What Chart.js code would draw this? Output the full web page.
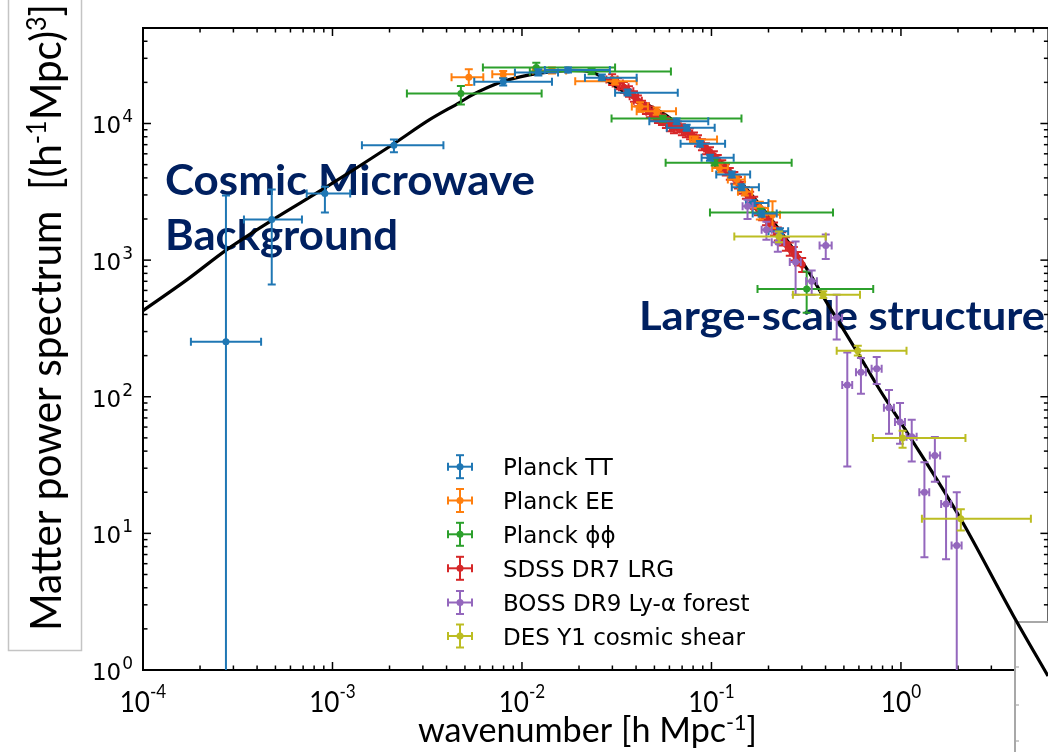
<!DOCTYPE html>
<html><head><meta charset="utf-8">
<script src="https://cdn.jsdelivr.net/npm/chart.js@4.4.0/dist/chart.umd.min.js"></script>
<style>html,body{margin:0;padding:0;background:#fff;overflow:hidden;width:1048px;height:752px}canvas{display:block}</style>
</head><body><canvas id="c" width="1060" height="752"></canvas>
<script>
// ---------- data ----------
const seriesLabels = ['Planck TT','Planck EE','Planck ϕϕ','SDSS DR7 LRG','BOSS DR9 Ly-α forest','DES Y1 cosmic shear'];
const seriesColors = ['#1f77b4','#ff7f0e','#2ca02c','#d62728','#9467bd','#bcbd22'];
const xTickExp = [-4,-3,-2,-1,0];
const yTickExp = [0,1,2,3,4];

// theory curve
const curve_k = [1e-4,1.71e-4,2.77e-4,4.85e-4,9.35e-4,2.08e-3,3.27e-3,4.71e-3,5.51e-3,7.94e-3,1.24e-2,1.86e-2,2.29e-2,3.17e-2,4.05e-2,5.69e-2,7.98e-2,9.93e-2,0.127,0.164,0.230,0.323,0.406,0.476,0.586,0.774,1.08,2.05,3.90,5.97];
const curve_P = [427,720,1194,1980,3450,7020,1.07e4,1.43e4,1.63e4,2.03e4,2.34e4,2.45e4,2.40e4,1.84e4,1.50e4,1.16e4,8030,6130,4450,2970,1640,838,489,343,214,112,54.5,13.0,2.53,0.904];

// Planck TT
const tt_k   = [2.74e-4,4.78e-4,9.12e-4,2.11e-3,7.96e-3,1.22e-2,1.75e-2,2.64e-2,3.61e-2,6.55e-2,7.40e-2,8.69e-2,9.82e-2,0.128,0.144,0.165,0.184,0.230];
const tt_P   = [253,1980,3070,6930,2.02e4,2.36e4,2.46e4,2.16e4,1.68e4,1.04e4,9290,7100,5610,4230,3410,2620,2190,1630];
const tt_kLo = [1.79e-4,3.41e-4,7.31e-4,1.43e-3,5.6e-3,9.18e-3,1.32e-2,2.15e-2,3.10e-2,4.70e-2,5.81e-2,6.87e-2,8.87e-2,0.106,0.128,0.152,0.165,0.200];
const tt_kHi = [4.2e-4,6.9e-4,1.24e-3,3.85e-3,1.44e-2,1.55e-2,2.91e-2,4.03e-2,6.64e-2,9.62e-2,0.104,0.118,0.131,0.160,0.178,0.200,0.221,0.254];
const tt_PLo = [0.01,662,2230,6160,1.90e4,2.25e4,2.36e4,2.07e4,1.60e4,9890,8840,6750,5330,4020,3240,2490,2080,1550];
const tt_PHi = [2970,3290,3450,7630,2.14e4,2.49e4,2.57e4,2.28e4,1.77e4,1.09e4,9780,7460,5900,4450,3590,2760,2300,1710];

// Planck EE
const ee_k   = [5.24e-3,7.96e-3,1.44e-2,3.10e-2,4.20e-2,5.14e-2,8.18e-2,0.110,0.136,0.150,0.180,0.210];
const ee_P   = [2.18e4,2.29e4,2.44e4,2.04e4,1.33e4,1.23e4,7630,4730,3890,3160,2410,2150];
const ee_kLo = [4.25e-3,6.97e-3,1.14e-2,1.91e-2,3.80e-2,4.03e-2,7.71e-2,0.101,0.122,0.138,0.164,0.191];
const ee_kHi = [6.25e-3,9.18e-3,1.71e-2,4.03e-2,4.62e-2,6.50e-2,0.107,0.122,0.150,0.164,0.199,0.230];
const ee_PLo = [1.91e4,2.16e4,2.32e4,1.93e4,1.22e4,1.16e4,7260,4380,3570,2970,1980,1720];
const ee_PHi = [2.49e4,2.42e4,2.57e4,2.17e4,1.43e4,1.31e4,8030,5090,4160,3400,2680,2700];

// Planck phi-phi
const pp_k   = [4.76e-3,1.19e-2,2.33e-2,5.55e-2,0.104,0.182,0.318];
const pp_P   = [1.66e4,2.57e4,2.40e4,1.09e4,5150,2230,615];
const pp_kLo = [2.47e-3,6.22e-3,1.10e-2,2.97e-2,5.73e-2,9.82e-2,0.175];
const pp_kHi = [1.27e-2,3.10e-2,6.11e-2,0.144,0.265,0.438,0.714];
const pp_PLo = [1.38e4,2.35e4,2.29e4,1.03e4,4920,2150,412];
const pp_PHi = [1.88e4,2.78e4,2.53e4,1.14e4,5450,2380,824];

// SDSS DR7 LRG
const sdss_k  = [0.0299,0.0321,0.0345,0.0367,0.0390,0.0409,0.0430,0.0451,0.0473,0.0498,0.0522,0.0548,0.0575,0.0604,0.0634,0.0665,0.0698,0.0733,0.0771,0.0809,0.0849,0.0891,0.0935,0.0982,0.103,0.108,0.114,0.119,0.125,0.132,0.138,0.145,0.152,0.160,0.168,0.176,0.185,0.194,0.204,0.214,0.224,0.236,0.247,0.259,0.272,0.286,0.301];
const sdss_P  = [2.10e4,1.96e4,1.84e4,1.72e4,1.58e4,1.47e4,1.35e4,1.29e4,1.22e4,1.16e4,1.11e4,1.07e4,1.02e4,9670,9350,9500,9040,8740,8450,7890,7500,7010,6560,6130,5730,5360,4920,4600,4300,4020,3700,3400,3120,2870,2640,2380,2190,2010,1850,1700,1560,1440,1320,1210,1120,1030,927];
const sdss_dP = [1900,1800,1700,1500,1400,1300,1200,1150,1100,1050,1000,950,920,880,850,860,820,800,770,720,690,650,610,570,540,510,470,440,420,390,360,340,310,290,270,250,230,210,200,185,170,160,150,135,125,118,110];
const sdss_dk = 0.002;

// BOSS DR9 Ly-alpha
const boss_k   = [0.155,0.195,0.224,0.278,0.338,0.401,0.458,0.521,0.615,0.745,0.865,0.989,1.14,1.33,1.51,1.73,1.97];
const boss_P   = [2480,1670,1350,970,700,1280,379,122,151,160,83.0,65.3,50.9,20.0,37.2,16.4,8.14];
const boss_kLo = [0.146,0.184,0.208,0.259,0.316,0.372,0.427,0.490,0.579,0.700,0.813,0.930,1.07,1.25,1.42,1.63,1.85];
const boss_kHi = [0.165,0.208,0.242,0.296,0.360,0.431,0.489,0.553,0.653,0.791,0.918,1.05,1.21,1.41,1.61,1.84,2.09];
const boss_PLo = [2000,1410,1150,559,559,1020,262,30.9,105,124,53.6,45.3,33.6,6.70,23.9,6.47,0.01];
const boss_PHi = [2770,1910,1600,1370,838,1540,559,211,192,195,112,89.9,67.9,33.2,50.7,26.1,20.0];

// DES Y1 cosmic shear
const des_k   = [0.227,0.389,0.592,1.02,2.07];
const des_P   = [1490,559,217,49.8,12.8];
const des_kLo = [0.132,0.269,0.458,0.711,1.29];
const des_kHi = [0.401,0.608,1.07,2.19,4.85];
const des_PLo = [1350,528,200,42.3,10.5];
const des_PHi = [1620,591,236,56.3,15.0];

// ---------- build datasets ----------
function mk(idx, k, P, kLo, kHi, PLo, PHi, order){
  return {
    label: seriesLabels[idx],
    data: k.map((v,i)=>({x:v, y:P[i]})),
    err: k.map((v,i)=>({kLo:kLo[i], kHi:kHi[i], PLo:PLo[i], PHi:PHi[i]})),
    backgroundColor: seriesColors[idx], borderColor: seriesColors[idx],
    pointRadius: 3.5, pointHoverRadius: 3.5, pointBorderWidth: 0,
    showLine: false, order: order
  };
}
const datasets = [
  {label:'theory', data: curve_k.map((v,i)=>({x:v,y:curve_P[i]})), showLine:true, borderColor:'#000', borderWidth:3.2,
   pointRadius:0, cubicInterpolationMode:'monotone', order:10, clip:{left:0,top:0,right:0,bottom:20}},
  mk(3, sdss_k, sdss_P, sdss_k.map(v=>v-sdss_dk), sdss_k.map(v=>v+sdss_dk), sdss_P.map((v,i)=>v-sdss_dP[i]), sdss_P.map((v,i)=>v+sdss_dP[i]), 7),
  mk(1, ee_k, ee_P, ee_kLo, ee_kHi, ee_PLo, ee_PHi, 6),
  mk(2, pp_k, pp_P, pp_kLo, pp_kHi, pp_PLo, pp_PHi, 5),
  mk(0, tt_k, tt_P, tt_kLo, tt_kHi, tt_PLo, tt_PHi, 4),
  mk(4, boss_k, boss_P, boss_kLo, boss_kHi, boss_PLo, boss_PHi, 3),
  mk(5, des_k, des_P, des_kLo, des_kHi, des_PLo, des_PHi, 2)
];

// ---------- helpers ----------
function drawPieces(ctx, pieces, x, y, targetW, scaleX){
  let total = 0;
  pieces.forEach(p=>{ctx.font=p.f; p.w=ctx.measureText(p.t).width; total+=p.w;});
  const s = targetW ? targetW/total : (scaleX||1);
  ctx.save(); ctx.translate(x,y); ctx.scale(s,1);
  let cx = 0;
  pieces.forEach(p=>{ctx.font=p.f; ctx.fillText(p.t, cx, p.dy||0); cx+=p.w;});
  ctx.restore();
  return total*s;
}
function line(ctx,x1,y1,x2,y2){ctx.beginPath();ctx.moveTo(x1,y1);ctx.lineTo(x2,y2);ctx.stroke();}

// ---------- plugins ----------
const framePlugin = {
  id:'frame',
  beforeDatasetsDraw(chart){
    const {ctx, chartArea:a, scales:{x,y}} = chart;
    ctx.save();
    ctx.textAlign='left'; ctx.textBaseline='alphabetic';
    // y-title box and text
    ctx.strokeStyle='#c4c4c4'; ctx.lineWidth=1.5;
    ctx.strokeRect(8.5,-2,73,652.5);
    ctx.fillStyle='#000';
    ctx.save(); ctx.translate(61,631); ctx.rotate(-Math.PI/2);
    drawPieces(ctx,[{t:'Matter power spectrum  [(h',f:'42px Lato'},{t:'-1',f:'26px Lato',dy:-15},
      {t:'Mpc)',f:'42px Lato'},{t:'3',f:'26px Lato',dy:-15},{t:']',f:'42px Lato'}],0,0,627);
    ctx.restore();

    // annotations
    ctx.fillStyle='#002060';
    drawPieces(ctx,[{t:'Cosmic Microwave',f:'bold 42px Lato'}],165,195,370);
    drawPieces(ctx,[{t:'Background',f:'bold 42px Lato'}],165,250,233);
    drawPieces(ctx,[{t:'Large-scale structure',f:'bold 40px Lato'}],639,330,406);

    // ticks (inward)
    ctx.strokeStyle='#000'; ctx.lineWidth=1.5;
    for(let d=-4; d<=0; d++) for(let m=1;m<=9;m++){
      const v=m*Math.pow(10,d); if(v<1e-4||v>=6) continue;
      const px=x.getPixelForValue(v); const L=(m===1)?8:4.5;
      line(ctx,px,a.bottom,px,a.bottom-L); line(ctx,px,a.top,px,a.top+L);
    }
    for(let d=0; d<=4; d++) for(let m=1;m<=9;m++){
      const v=m*Math.pow(10,d); if(v<1||v>=5e4) continue;
      const py=y.getPixelForValue(v); const L=(m===1)?8:4.5;
      line(ctx,a.left,py,a.left+L,py); line(ctx,a.right,py,a.right-L,py);
    }
    // spines
    ctx.lineWidth=2;
    ctx.strokeRect(a.left,a.top,a.right-a.left,a.bottom-a.top);

    // tick labels
    ctx.fillStyle='#000';
    xTickExp.forEach(e=>{
      const px=x.getPixelForValue(Math.pow(10,e));
      const pcs=[{t:'10',f:'29px Lato'},{t:String(e),f:'19px Lato',dy:-14}];
      let tot=0; pcs.forEach(p=>{ctx.font=p.f; tot+=ctx.measureText(p.t).width;});
      drawPieces(ctx,pcs,px-tot*0.9/2,712,null,0.9);
    });
    yTickExp.forEach(e=>{
      const py=y.getPixelForValue(Math.pow(10,e));
      ctx.font='23px "DejaVu Sans"'; const w10=ctx.measureText('10').width;
      ctx.font='17px "DejaVu Sans"'; const we=ctx.measureText(String(e)).width;
      const start=133-we-w10-1;
      ctx.font='23px "DejaVu Sans"'; ctx.fillText('10',start,py+10);
      ctx.font='17px "DejaVu Sans"'; ctx.fillText(String(e),start+w10+1,py-1);
    });
    // x title
    drawPieces(ctx,[{t:'wavenumber [h Mpc',f:'35px Lato'},{t:'-1',f:'22px Lato',dy:-12},{t:']',f:'35px Lato'}],418,742,339);

    // inset box at lower right
    ctx.fillStyle='#fff'; ctx.fillRect(1015,622,60,140);
    ctx.strokeStyle='#a8a8a8'; ctx.lineWidth=2;
    ctx.beginPath(); ctx.moveTo(1015,760); ctx.lineTo(1015,622); ctx.lineTo(1070,622); ctx.stroke();
    ctx.lineWidth=1; ctx.strokeStyle='#999';
    [667,705,741].forEach(v=>line(ctx,1016,v,1019,v));
    ctx.restore();
  },
  beforeDatasetDraw(chart,args){
    const ds=chart.data.datasets[args.index]; if(!ds.err) return;
    const {ctx, chartArea:a, scales:{x,y}} = chart;
    ctx.save();
    ctx.beginPath(); ctx.rect(a.left,a.top,a.right-a.left,a.bottom-a.top); ctx.clip();
    ctx.strokeStyle=ds.borderColor; ctx.lineWidth=2; ctx.lineCap='butt';
    const c=4;
    ds.err.forEach((e,i)=>{
      const px=x.getPixelForValue(ds.data[i].x), py=y.getPixelForValue(ds.data[i].y);
      const x1=x.getPixelForValue(e.kLo), x2=x.getPixelForValue(e.kHi);
      const y1=y.getPixelForValue(e.PHi), y2=y.getPixelForValue(e.PLo);
      line(ctx,x1,py,x2,py); line(ctx,x1,py-c,x1,py+c); line(ctx,x2,py-c,x2,py+c);
      line(ctx,px,y1,px,y2); line(ctx,px-c,y1,px+c,y1); line(ctx,px-c,y2,px+c,y2);
    });
    ctx.restore();
  },
  afterDatasetsDraw(chart){
    const {ctx}=chart;
    ctx.save();
    const rows=[466.7,500.5,534.3,568.3,602.5,636];
    seriesLabels.forEach((lab,i)=>{
      const cy=rows[i], cx=460, col=seriesColors[i];
      ctx.strokeStyle=col; ctx.fillStyle=col; ctx.lineWidth=2;
      line(ctx,448,cy,472,cy); line(ctx,448,cy-4,448,cy+4); line(ctx,472,cy-4,472,cy+4);
      line(ctx,cx,cy-11.5,cx,cy+11.5); line(ctx,cx-4,cy-11.5,cx+4,cy-11.5); line(ctx,cx-4,cy+11.5,cx+4,cy+11.5);
      ctx.beginPath(); ctx.arc(cx,cy,3.5,0,Math.PI*2); ctx.fill();
      ctx.fillStyle='#000'; ctx.font='23px "DejaVu Sans"'; ctx.textAlign='left'; ctx.textBaseline='alphabetic';
      ctx.fillText(lab,503,cy+8.5);
    });
    ctx.restore();
  }
};

new Chart(document.getElementById('c'),{
  type:'scatter',
  data:{datasets},
  options:{
    responsive:false, devicePixelRatio:1, animation:false,
    layout:{padding:{left:143,top:28,right:11.6,bottom:82}},
    plugins:{legend:{display:false}, tooltip:{enabled:false}},
    events:[],
    scales:{
      x:{type:'logarithmic', min:1e-4, max:6, display:false},
      y:{type:'logarithmic', min:1, max:5e4, display:false}
    }
  },
  plugins:[framePlugin]
});
</script></body></html>
